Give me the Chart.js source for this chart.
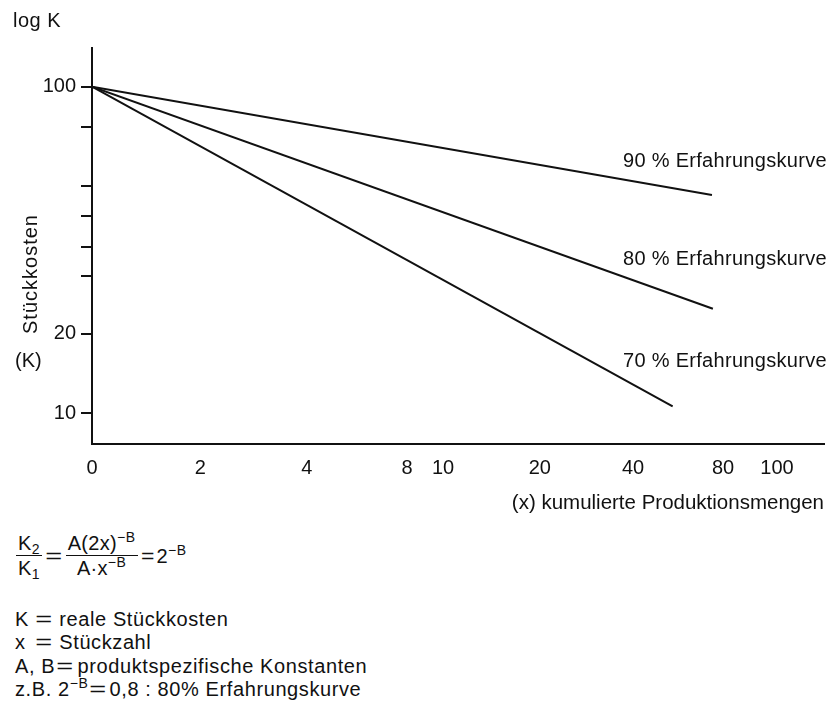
<!DOCTYPE html>
<html>
<head>
<meta charset="utf-8">
<script src="https://cdn.jsdelivr.net/npm/chart.js@4.4.1/dist/chart.umd.min.js"></script>
<style>
html,body{margin:0;padding:0;background:#fff;}
body{width:829px;height:710px;position:relative;overflow:hidden;font-family:"Liberation Sans",Arial,Helvetica,sans-serif;color:#111;}
#c{position:absolute;left:0;top:0;}
.t{position:absolute;font-size:20px;line-height:20px;white-space:nowrap;}
.cl{letter-spacing:0.3px;}
#ylab{left:30px;top:274px;transform:translate(-50%,-50%) rotate(-90deg);letter-spacing:1px;}
#formula{position:absolute;left:16px;top:531px;display:flex;align-items:center;font-size:20px;line-height:24px;white-space:nowrap;letter-spacing:0.3px;}
.frac{display:inline-flex;flex-direction:column;align-items:center;}
.num{border-bottom:1.6px solid #111;padding:0 2px;}
.den{padding:0 2px;}
.eq{display:inline-block;transform:scaleX(1.45);margin:0 6px;}
sup{font-size:14px;line-height:0;vertical-align:8px;letter-spacing:0.5px;}
sub{font-size:14px;line-height:0;vertical-align:-4px;}
#legend{position:absolute;left:15px;top:608px;font-size:20px;line-height:23.3px;white-space:nowrap;letter-spacing:0.6px;}
#legend .lab{display:inline-block;min-width:14px;}
#legend .eq{margin:0 9px 0 9px;}
</style>
</head>
<body>
<canvas id="c" width="829" height="525"></canvas>
<div class="t" style="left:13px;top:10px;letter-spacing:0.5px;">log K</div>
<div class="t" id="ylab">Stückkosten</div>
<div class="t" style="left:15px;top:350px;">(K)</div>
<div id="curveLabels"></div>
<div id="formula">
  <span class="frac"><span class="num">K<sub>2</sub></span><span class="den">K<sub>1</sub></span></span>
  <span class="eq">=</span>
  <span class="frac"><span class="num">A(2x)<sup>−B</sup></span><span class="den">A·x<sup>−B</sup></span></span>
  <span class="eq" style="margin:0 3px 0 4px;transform:scaleX(1.15);">=</span><span>2<sup>−B</sup></span>
</div>
<div id="legend">
  <div><span class="lab">K</span><span class="eq">=</span>reale Stückkosten</div>
  <div><span class="lab">x</span><span class="eq">=</span>Stückzahl</div>
  <div><span>A, B</span><span class="eq" style="margin:0 6px 0 4px;">=</span>produktspezifische Konstanten</div>
  <div>z.B. 2<sup>−B</sup><span class="eq" style="margin:0 5px 0 4px;">=</span>0,8 : 80% Erfahrungskurve</div>
</div>
<script>
// ---- data ----
const curveNames = ['90 % Erfahrungskurve', '80 % Erfahrungskurve', '70 % Erfahrungskurve'];
const startX = 1;          // all curves start at the origin of the log axis
const startK = 100;
const endX = [64.6, 65.0, 49.6];
const endK = [46.6, 20.9, 10.5];

const xTickValues = [1, 2.07, 4.24, 8.31, 10.59, 20.3, 38.0, 69.6, 100];
const xTickLabels = ['0', '2', '4', '8', '10', '20', '40', '80', '100'];
const yTickValues = [100, 75.1, 49.7, 40.3, 32.4, 26.4, 17.5, 10];
const yTickLabels = ['100', '', '', '', '', '', '20', '10'];

// ---- curve labels (real text) ----
const labelTops = [150, 248, 350];
const cl = document.getElementById('curveLabels');
curveNames.forEach((n, i) => {
  const d = document.createElement('div');
  d.className = 't cl';
  d.style.left = '623px';
  d.style.top = labelTops[i] + 'px';
  d.textContent = n;
  cl.appendChild(d);
});

const FONT = '"Liberation Sans", Arial, Helvetica, sans-serif';
const INK = '#111';

new Chart(document.getElementById('c').getContext('2d'), {
  type: 'line',
  data: {
    datasets: curveNames.map((n, i) => ({
      label: n,
      data: [{x: startX, y: startK}, {x: endX[i], y: endK[i]}],
      borderColor: INK,
      borderWidth: 2,
      pointRadius: 0,
      tension: 0,
      fill: false
    }))
  },
  options: {
    responsive: false,
    animation: false,
    devicePixelRatio: 1,
    layout: {padding: {top: 48, right: 5, left: 0, bottom: 0}},
    plugins: {legend: {display: false}, tooltip: {enabled: false}},
    scales: {
      x: {
        type: 'logarithmic',
        min: 1,
        max: 137.2,
        bounds: 'data',
        afterBuildTicks: s => { s.ticks = xTickValues.map(v => ({value: v})); },
        afterFit: s => { s.height = 81; },
        grid: {display: false, drawTicks: false},
        border: {display: true, color: INK, width: 2},
        ticks: {
          autoSkip: false, maxRotation: 0, minRotation: 0, padding: 12,
          color: INK, font: {family: FONT, size: 20},
          callback: (v, i) => xTickLabels[i]
        },
        title: {
          display: true, text: '(x) kumulierte Produktionsmengen', align: 'end',
          color: INK, font: {family: FONT, size: 20.5}, padding: {top: 0, bottom: 9}
        }
      },
      y: {
        type: 'logarithmic',
        min: 8.05,
        max: 131.4,
        bounds: 'data',
        afterBuildTicks: s => { s.ticks = yTickValues.map(v => ({value: v})); },
        afterFit: s => { s.width = 92; },
        grid: {display: true, drawOnChartArea: false, drawTicks: true, tickLength: 11, color: INK, lineWidth: 2},
        border: {display: true, color: INK, width: 2},
        ticks: {
          autoSkip: false, padding: 5,
          color: INK, font: {family: FONT, size: 20},
          callback: (v, i) => yTickLabels[i]
        }
      }
    }
  }
});
</script>
</body>
</html>
